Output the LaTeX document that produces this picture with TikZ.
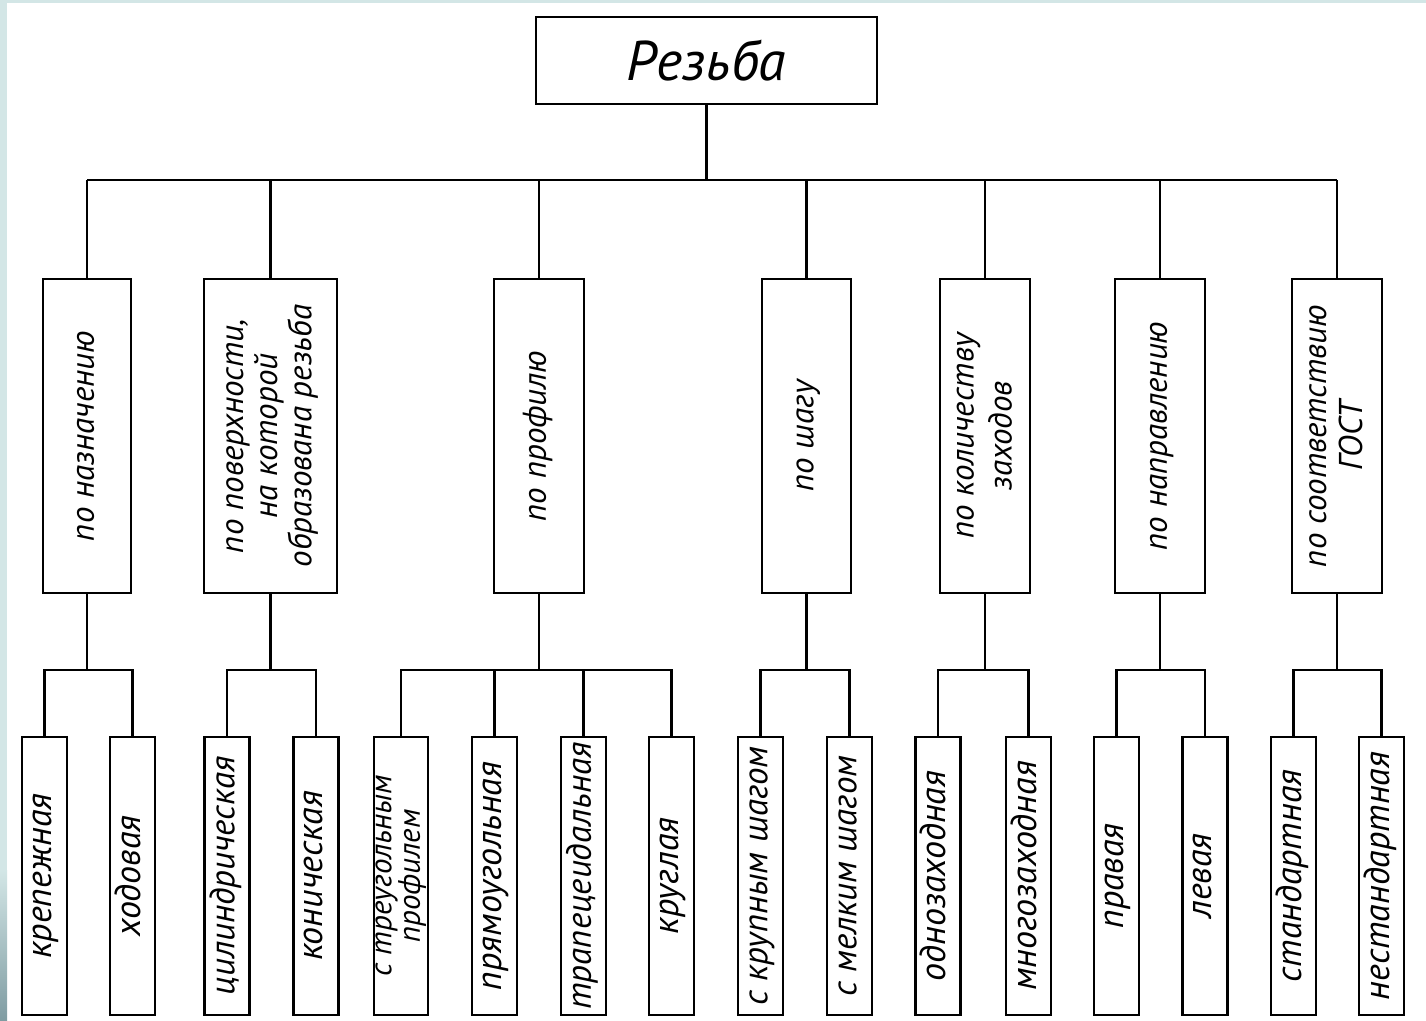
\documentclass[tikz,border=0pt]{standalone}
\usepackage{fontspec}
\setmainfont{PT Sans}
\usetikzlibrary{calc}
\definecolor{stripcol}{HTML}{D3E6E6}
\definecolor{stripdark}{HTML}{7F9CA2}
\newcommand{\vlab}[3][34]{\rotatebox{90}{\fontsize{#2}{#1}\selectfont\itshape\begin{tabular}{@{}c@{}}#3\end{tabular}}}
\tikzset{
  box/.style={draw=black, line width=2.8pt, fill=white, inner sep=0pt, outer sep=0pt},
  midbox/.style={box, minimum height=314pt},
  lowbox/.style={box, minimum height=278pt, minimum width=45pt},
  conn/.style={draw=black, line width=2.8pt, line join=miter}
}
\begin{document}
\begin{tikzpicture}[x=1pt,y=-1pt]
\useasboundingbox (0,0) rectangle (1426,1020);
\fill[white] (0,0) rectangle (1426,1020);
\fill[stripcol] (0,0) rectangle (7,1020);
\fill[stripcol] (0,0) rectangle (1426,3);
\shade[top color=stripcol, bottom color=stripdark] (0,870) rectangle (7,1020);

% top
\node[box, minimum width=341pt, minimum height=87pt] (top) at (706.5,60.5)
  {\fontsize{56}{56}\selectfont\itshape Резьба};

% middle level
\node[midbox, minimum width=88pt] (m1) at (87,436) {\vlab{33}{по назначению}};
\node[midbox, minimum width=133pt] (m2) at (270.5,436) {\vlab{33}{по поверхности,\\ на которой\\ образована резьба}};
\node[midbox, minimum width=90pt] (m3) at (539,436) {\vlab{33}{по профилю}};
\node[midbox, minimum width=89pt] (m4) at (806.5,436) {\vlab{33}{по шагу}};
\node[midbox, minimum width=90pt] (m5) at (985,436) {\vlab[38]{33}{по количеству\\ заходов}};
\node[midbox, minimum width=90pt] (m6) at (1160,436) {\vlab{33}{по направлению}};
\node[midbox, minimum width=90pt] (m7) at (1337,436) {\vlab[36]{33}{по соответствию\\ ГОСТ}};

% bottom level
\node[lowbox] (b1) at (44.5,876) {\vlab{36}{крепежная}};
\node[lowbox] (b2) at (132.5,876) {\vlab{36}{ходовая}};
\node[lowbox] (b3) at (227,876) {\vlab{35}{цилиндрическая}};
\node[lowbox] (b4) at (316,876) {\vlab{36}{коническая}};
\node[lowbox, minimum width=54pt] (b5) at (401,876) {\vlab[22]{31}{с треугольным\\ профилем}};
\node[lowbox] (b6) at (494.5,876) {\vlab{36}{прямоугольная}};
\node[lowbox] (b7) at (583.5,876) {\vlab{35}{трапецеидальная}};
\node[lowbox] (b8) at (671.5,876) {\vlab{36}{круглая}};
\node[lowbox] (b9) at (760.5,876) {\vlab{35}{с крупным шагом}};
\node[lowbox] (b10) at (849.5,876) {\vlab{35}{с мелким шагом}};
\node[lowbox] (b11) at (938,876) {\vlab{36}{однозаходная}};
\node[lowbox] (b12) at (1028.5,876) {\vlab{36}{многозаходная}};
\node[lowbox] (b13) at (1116.5,876) {\vlab{36}{правая}};
\node[lowbox] (b14) at (1205,876) {\vlab{36}{левая}};
\node[lowbox] (b15) at (1293.5,876) {\vlab{36}{стандартная}};
\node[lowbox] (b16) at (1381.5,876) {\vlab{36}{нестандартная}};

% bus levels
\coordinate (bus) at (0,180);
\coordinate (g) at (0,670);

% top connectors
\draw[conn] (top.south) -- (top.south |- bus);
\draw[conn] (m1.north |- bus) -- (m7.north |- bus);
\foreach \m in {m1,m2,m3,m4,m5,m6,m7} {
  \draw[conn] (\m.north) -- (\m.north |- bus);
}

% lower connectors
\foreach \m in {m1,m2,m3,m4,m5,m6,m7} {
  \draw[conn] (\m.south) -- (\m.south |- g);
}
\draw[conn] (b1.north) -- (b1.north |- g) -- (b2.north |- g) -- (b2.north);
\draw[conn] (b3.north) -- (b3.north |- g) -- (b4.north |- g) -- (b4.north);
\draw[conn] (b5.north) -- (b5.north |- g) -- (b8.north |- g) -- (b8.north);
\draw[conn] (b6.north) -- (b6.north |- g);
\draw[conn] (b7.north) -- (b7.north |- g);
\draw[conn] (b9.north) -- (b9.north |- g) -- (b10.north |- g) -- (b10.north);
\draw[conn] (b11.north) -- (b11.north |- g) -- (b12.north |- g) -- (b12.north);
\draw[conn] (b13.north) -- (b13.north |- g) -- (b14.north |- g) -- (b14.north);
\draw[conn] (b15.north) -- (b15.north |- g) -- (b16.north |- g) -- (b16.north);
\end{tikzpicture}
\end{document}
